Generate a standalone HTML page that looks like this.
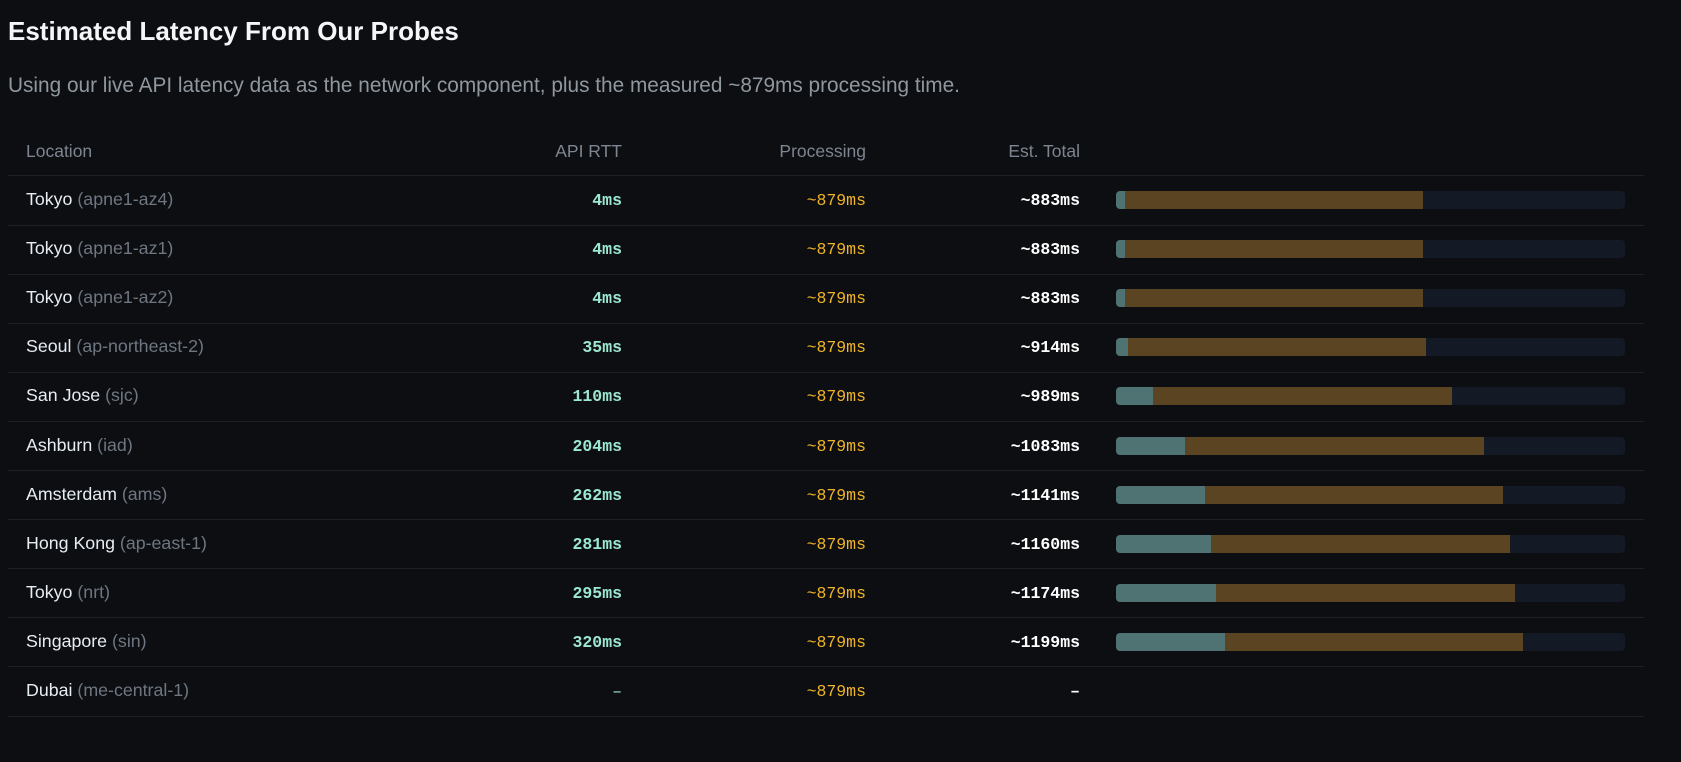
<!DOCTYPE html>
<html><head><meta charset="utf-8"><style>
body{margin:0;width:1681px;height:762px;background:#0d0e12;overflow:hidden;font-family:"Liberation Sans",sans-serif;position:relative}
.a{position:absolute;white-space:nowrap}
h1{position:absolute;left:8px;top:16px;margin:0;font-size:26px;font-weight:bold;color:#f4f6f8}
.sub{left:8px;top:74px;font-size:20.8px;color:#8f979f}
.hd{font-size:17.5px;color:#7d8590;top:141px}
.line{position:absolute;left:8px;width:1636px;height:1px;background:#1d2027}
.loc{left:26px;font-size:17.8px;color:#e6edf3}
.loc span{color:#6e7681}
.m{font-family:"Liberation Mono",monospace;font-size:16.5px;font-weight:bold}
.rtt{right:1059px;color:#9be7cf}
.pr{right:815px;color:#f0b429;font-weight:normal}
.tot{right:601px;color:#ffffff}
.bar{position:absolute;left:1116px;width:509px;height:18px;background:#131a26;border-radius:4px;overflow:hidden}
.bar i{position:absolute;top:0;height:18px}
</style></head><body>
<h1>Estimated Latency From Our Probes</h1>
<div class="a sub">Using our live API latency data as the network component, plus the measured ~879ms processing time.</div>
<div class="a hd" style="left:26px">Location</div>
<div class="a hd" style="right:1059px">API RTT</div>
<div class="a hd" style="right:815px">Processing</div>
<div class="a hd" style="right:601px">Est. Total</div>
<div class="line" style="top:175px"></div>
<div id="rows"></div>
<script>
var d=[["Tokyo","apne1-az4",4],["Tokyo","apne1-az1",4],["Tokyo","apne1-az2",4],["Seoul","ap-northeast-2",35],["San Jose","sjc",110],["Ashburn","iad",204],["Amsterdam","ams",262],["Hong Kong","ap-east-1",281],["Tokyo","nrt",295],["Singapore","sin",320],["Dubai","me-central-1",null]];
var h="",s=0.3395;
d.forEach(function(r,i){
 var c=200+i*49.1,t=c-10;
 h+='<div class="a loc" style="top:'+(t-1)+'px">'+r[0]+' <span>('+r[1]+')</span></div>';
 h+='<div class="a m rtt" style="top:'+(t+1)+'px">'+(r[2]==null?'<span style="font-weight:normal">–</span>':r[2]+'ms')+'</div>';
 h+='<div class="a m pr" style="top:'+(t+1)+'px">~879ms</div>';
 h+='<div class="a m tot" style="top:'+(t+1)+'px">'+(r[2]==null?'–':'~'+(r[2]+879)+'ms')+'</div>';
 if(r[2]!=null){var w=Math.max(9,r[2]*s),p=879*s;
  h+='<div class="bar" style="top:'+(c-9)+'px"><i style="left:0;width:'+w+'px;background:#4f7272"></i><i style="left:'+w+'px;width:'+p+'px;background:#5a4422"></i></div>';}
 h+='<div class="line" style="top:'+Math.round(c+24.5)+'px"></div>';
});
document.getElementById("rows").innerHTML=h;
</script>
</body></html>
